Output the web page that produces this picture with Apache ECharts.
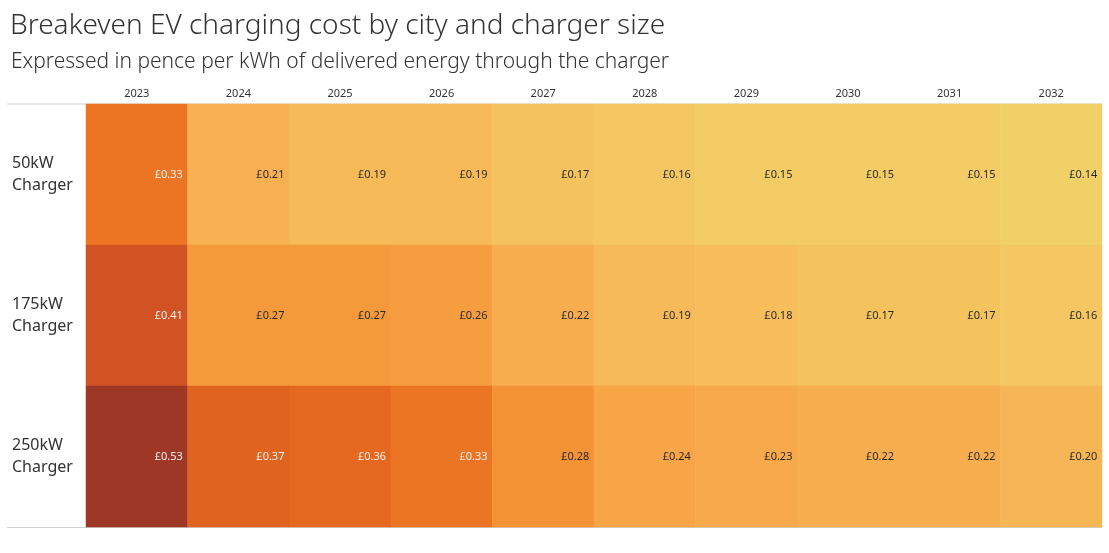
<!DOCTYPE html>
<html><head><meta charset="utf-8">
<script src="https://cdn.jsdelivr.net/npm/echarts@6/dist/echarts.min.js"></script>
<style>html,body{margin:0;padding:0;background:#fff}#c{width:1109px;height:553px}</style>
</head><body><div id="c"></div>
<script>
const years = ['2023','2024','2025','2026','2027','2028','2029','2030','2031','2032'];
const chargers = ['50kW\nCharger','175kW\nCharger','250kW\nCharger'];
const cost50 = [0.33,0.21,0.19,0.19,0.17,0.16,0.15,0.15,0.15,0.14];
const cost175 = [0.41,0.27,0.27,0.26,0.22,0.19,0.18,0.17,0.17,0.16];
const cost250 = [0.53,0.37,0.36,0.33,0.28,0.24,0.23,0.22,0.22,0.20];
const rows = [cost50, cost175, cost250];

const data = [];
rows.forEach((r, yi) => r.forEach((v, xi) => {
  data.push({value:[xi, yi, v], label:{color: v >= 0.3 ? '#f4f1ee' : '#2b2b2b'}});
}));

const chart = echarts.init(document.getElementById('c'));
chart.setOption({
  animation:false,
  title:[{text:'Breakeven EV charging cost by city and charger size',left:5,top:7,
    textStyle:{fontFamily:'Noto Sans',fontWeight:300,fontSize:28,color:'#333'}},
   {text:'Expressed in pence per kWh of delivered energy through the charger',left:6,top:47,
    textStyle:{fontFamily:'Noto Sans',fontWeight:300,fontSize:21,color:'#333'}}],
  grid:{left:86,right:7,top:104,bottom:26},
  xAxis:{type:'category',data:years,position:'top',axisLine:{show:false},axisTick:{show:false},
    axisLabel:{fontFamily:'Noto Sans',fontSize:11,color:'#333',margin:5},splitLine:{show:false}},
  yAxis:{type:'category',data:chargers,inverse:true,axisLine:{show:false},axisTick:{show:false},
    axisLabel:{align:'left',margin:74,fontFamily:'Noto Sans',fontSize:16,lineHeight:22,color:'#333'}},
  visualMap:{show:false,min:0.14,max:0.53,dimension:2,
    inRange:{color:['#f2d068','#f7bd5a','#f8aa4d','#f59a3b','#f17d26','#e5691f','#d65623','#c24b25','#b04126','#9f3727']}},
  series:[{type:'heatmap',data:data,
    label:{show:true,position:'insideRight',distance:5,fontFamily:'Noto Sans',fontSize:11,
      formatter:p=>'£'+p.value[2].toFixed(2)},
    itemStyle:{borderWidth:0}}],
  graphic:[
    {type:'line',shape:{x1:7,y1:104,x2:1102,y2:104},style:{stroke:'#cfcfcf',lineWidth:1}},
    {type:'line',shape:{x1:7,y1:527.5,x2:1102,y2:527.5},style:{stroke:'#cfcfcf',lineWidth:1}}
  ]
});
</script></body></html>
